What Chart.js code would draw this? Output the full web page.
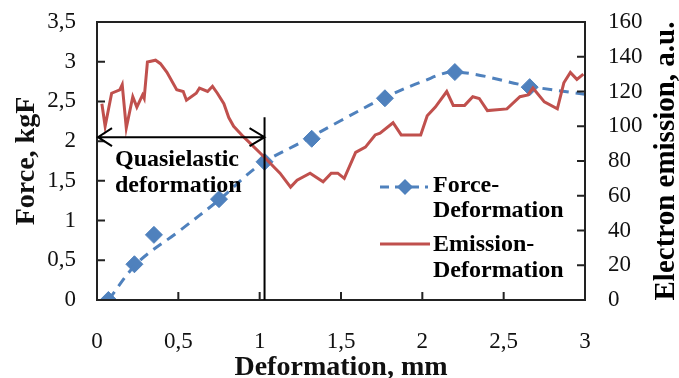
<!DOCTYPE html>
<html>
<head>
<meta charset="utf-8">
<script src="https://cdn.jsdelivr.net/npm/chart.js@4"></script>
<style>
  html, body { margin: 0; padding: 0; background: #fff; }
  #wrap { width: 679px; height: 378px; }
</style>
</head>
<body>
<div id="wrap"><canvas id="chart" width="679" height="378"></canvas></div>
<script>
// ===== Data =====
// measured force points (diamonds)
const forceX = [0.07, 0.23, 0.35, 0.75, 1.03, 1.32, 1.77, 2.2, 2.66];
const forceY = [0, 0.45, 0.82, 1.27, 1.74, 2.03, 2.54, 2.87, 2.68];
// dashed trend through the force points
const trendX = [0.07, 0.25, 0.5, 0.75, 1.0, 1.25, 1.5, 1.75, 2.0, 2.2, 2.66, 3.0];
const trendY = [0, 0.47, 0.86, 1.26, 1.70, 1.98, 2.26, 2.53, 2.75, 2.87, 2.69, 2.59];
// electron emission (right axis)
const emX = [0.03, 0.05, 0.09, 0.14, 0.155, 0.18, 0.22, 0.245, 0.28, 0.29, 0.31, 0.36, 0.39, 0.43,
  0.49, 0.53, 0.55, 0.61, 0.63, 0.68, 0.71, 0.74, 0.78, 0.81, 0.84, 0.90, 1.02, 1.125, 1.19, 1.23,
  1.31, 1.39, 1.44, 1.48, 1.52, 1.59, 1.65, 1.71, 1.74, 1.82, 1.87, 1.99, 2.03, 2.08, 2.15, 2.19,
  2.26, 2.31, 2.35, 2.40, 2.52, 2.60, 2.65, 2.68, 2.75, 2.83, 2.87, 2.91, 2.95, 2.99];
const emY = [113, 100, 119, 121, 124, 99, 117, 111, 118, 116, 137, 138, 136, 131,
  121, 120, 115, 119, 122, 120, 123, 119, 113, 105, 100, 94, 83, 73, 65, 69,
  73, 68, 73, 73, 70, 85, 88, 95, 96, 102, 95, 95, 106, 111, 120, 112,
  112, 117, 116, 109, 110, 117, 118, 122, 114, 110, 125, 131, 127, 130];

// quasielastic zone marker
const zoneEnd = 1.03;
const arrowLevel = 2.05;
const zoneTop = 2.3;

const FONT = '"Liberation Serif", "Times New Roman", serif';
const BLUE = '#4f81bd';
const RED = '#c0504d';
const AXIS = '#222';

const toPts = (xs, ys) => xs.map((x, i) => ({ x, y: ys[i] }));
const comma = v => String(v).replace('.', ',');

// frame, inward ticks, annotation, legend, right title
const decor = {
  id: 'decor',
  afterDraw(chart) {
    const { ctx, chartArea: a, scales } = chart;
    const sx = scales.x, sy = scales.y, sy2 = scales.y2;
    ctx.save();
    ctx.setLineDash([]);

    ctx.strokeStyle = AXIS;
    ctx.lineWidth = 2;
    ctx.beginPath();
    ctx.moveTo(a.left, a.top); ctx.lineTo(a.right, a.top);
    ctx.lineTo(a.right, a.bottom); ctx.lineTo(a.left, a.bottom);
    ctx.closePath();
    sx.ticks.forEach(t => {
      const px = sx.getPixelForValue(t.value);
      ctx.moveTo(px, a.bottom); ctx.lineTo(px, a.bottom - 8);
    });
    sy.ticks.forEach(t => {
      const py = sy.getPixelForValue(t.value);
      ctx.moveTo(a.left, py); ctx.lineTo(a.left + 8, py);
    });
    sy2.ticks.forEach(t => {
      const py = sy2.getPixelForValue(t.value);
      ctx.moveTo(a.right, py); ctx.lineTo(a.right - 8, py);
    });
    ctx.stroke();

    // vertical limit + double arrow
    const xe = sx.getPixelForValue(zoneEnd);
    const xs0 = sx.getPixelForValue(0);
    const ya = sy.getPixelForValue(arrowLevel);
    ctx.strokeStyle = '#000';
    ctx.lineWidth = 2;
    ctx.beginPath();
    ctx.moveTo(xe, sy.getPixelForValue(zoneTop)); ctx.lineTo(xe, a.bottom);
    ctx.moveTo(xs0 + 1, ya); ctx.lineTo(xe, ya);
    ctx.moveTo(xs0 + 15, ya - 9); ctx.lineTo(xs0 + 1, ya); ctx.lineTo(xs0 + 15, ya + 9);
    ctx.moveTo(xe - 15, ya - 9); ctx.lineTo(xe, ya); ctx.lineTo(xe - 15, ya + 9);
    ctx.stroke();

    ctx.fillStyle = '#000';
    ctx.font = 'bold 24px ' + FONT;
    ctx.textAlign = 'left';
    ctx.textBaseline = 'alphabetic';
    ctx.fillText('Quasielastic', 115, 166);
    ctx.fillText('deformation', 115, 192);

    // legend
    ctx.lineWidth = 3;
    ctx.strokeStyle = BLUE;
    ctx.setLineDash([9, 6]);
    ctx.beginPath(); ctx.moveTo(380, 187); ctx.lineTo(428, 187); ctx.stroke();
    ctx.setLineDash([]);
    ctx.fillStyle = BLUE;
    ctx.beginPath();
    ctx.moveTo(405, 179); ctx.lineTo(413, 187); ctx.lineTo(405, 195); ctx.lineTo(397, 187);
    ctx.closePath(); ctx.fill();
    ctx.strokeStyle = RED;
    ctx.beginPath(); ctx.moveTo(380, 244); ctx.lineTo(430, 244); ctx.stroke();

    ctx.fillStyle = '#000';
    ctx.fillText('Force-', 433, 192);
    ctx.fillText('Deformation', 433, 217);
    ctx.fillText('Emission-', 433, 251);
    ctx.fillText('Deformation', 433, 277);

    // right axis title, reading bottom to top
    ctx.translate(667, (a.top + a.bottom) / 2);
    ctx.rotate(-Math.PI / 2);
    ctx.textAlign = 'center';
    ctx.textBaseline = 'middle';
    ctx.font = 'bold 29px ' + FONT;
    ctx.fillText('Electron emission, a.u.', 0, 0);
    ctx.restore();
  }
};

const tickFont = { family: FONT, size: 23 };
const titleFont = { family: FONT, size: 28, weight: 'bold', lineHeight: 0.75 };
const axisBorder = { display: true, color: AXIS, width: 2 };

// fixed axis sizes so the plot box lands where the original one is
const fixV = w => s => { s.width = w; s.paddingTop = 0; s.paddingBottom = 0; };
const fixH = h => s => { s.height = h; s.paddingLeft = 0; s.paddingRight = 0; };

new Chart(document.getElementById('chart'), {
  type: 'scatter',
  data: {
    datasets: [
      {
        label: 'Emission-Deformation',
        data: toPts(emX, emY),
        yAxisID: 'y2',
        showLine: true,
        borderColor: RED,
        borderWidth: 3,
        pointRadius: 0,
        tension: 0
      },
      {
        label: 'trend',
        data: toPts(trendX, trendY),
        yAxisID: 'y',
        showLine: true,
        borderColor: BLUE,
        borderWidth: 3,
        borderDash: [10, 7],
        pointRadius: 0,
        tension: 0.35
      },
      {
        label: 'Force-Deformation',
        data: toPts(forceX, forceY),
        yAxisID: 'y',
        showLine: false,
        pointStyle: 'rectRot',
        pointRadius: 8.5,
        backgroundColor: BLUE,
        borderColor: BLUE
      }
    ]
  },
  options: {
    responsive: false,
    animation: false,
    layout: { padding: { top: 22, left: 0, right: 0, bottom: 0 } },
    plugins: { legend: { display: false }, tooltip: { enabled: false } },
    scales: {
      x: {
        type: 'linear', min: 0, max: 3,
        ticks: { stepSize: 0.5, font: tickFont, color: '#111', padding: 28, callback: comma },
        grid: { display: false, drawTicks: false },
        border: axisBorder,
        title: { display: true, text: 'Deformation, mm', font: titleFont, color: '#111', padding: 0 },
        afterFit: fixH(78)
      },
      y: {
        position: 'left', min: 0, max: 3.5,
        ticks: { stepSize: 0.5, font: tickFont, color: '#111', padding: 21, callback: comma },
        grid: { display: false, drawTicks: false },
        border: axisBorder,
        title: { display: true, text: 'Force, kgF', font: { ...titleFont, lineHeight: 1.1 }, color: '#111', padding: { top: 11, bottom: 0 } },
        afterFit: fixV(97)
      },
      y2: {
        position: 'right', min: 0, max: 160,
        ticks: { stepSize: 20, font: tickFont, color: '#111', padding: 23 },
        grid: { display: false, drawTicks: false },
        border: axisBorder,
        afterFit: fixV(94)
      }
    }
  },
  plugins: [decor]
});
</script>
</body>
</html>
